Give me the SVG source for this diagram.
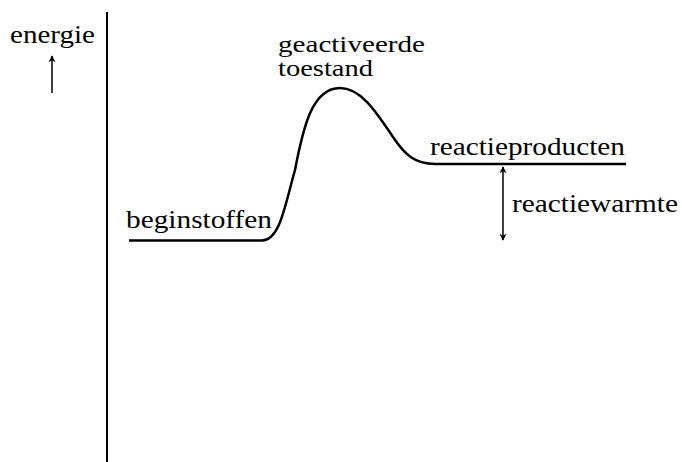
<svg xmlns="http://www.w3.org/2000/svg" width="682" height="462" viewBox="0 0 682 462">
<style>
text{font-family:"Liberation Serif","Times New Roman",serif;font-size:25px;fill:#000}
.sm{font-size:23px}
.ln{fill:none;stroke:#000}
</style>
<defs>
<marker id="ah" viewBox="0 0 10 10" refX="9" refY="5" markerWidth="7" markerHeight="9" markerUnits="userSpaceOnUse" orient="auto-start-reverse">
<path d="M0,0 L10,5 L0,10 L3,5 Z" fill="#000"/>
</marker>
</defs>
<rect width="682" height="462" fill="#fff"/>
<g id="axis">
<line class="ln" x1="107" y1="12" x2="107" y2="462" stroke-width="2"/>
</g>
<g id="energie">
<text x="10" y="43" textLength="85" lengthAdjust="spacingAndGlyphs">energie</text>
</g>
<g id="connectors">
<line class="ln" x1="52" y1="93" x2="52" y2="56" stroke-width="1.5" marker-end="url(#ah)"/>
<path class="ln" stroke-width="2.5" d="M129,240.5 H262 C280,240.5 285,205 295,170 C303,128 312,88 340,88 C362,88 378,115 393,137 C405,155 415,164 435,164 H626"/>
<line class="ln" x1="503" y1="167" x2="503" y2="240" stroke-width="1.5" marker-start="url(#ah)" marker-end="url(#ah)"/>
</g>
<g id="beginstoffen">
<text x="126" y="228" textLength="146" lengthAdjust="spacingAndGlyphs">beginstoffen</text>
</g>
<g id="geactiveerde-toestand">
<text class="sm" x="278" y="52" textLength="147" lengthAdjust="spacingAndGlyphs">geactiveerde</text>
<text class="sm" x="278" y="76" textLength="95" lengthAdjust="spacingAndGlyphs">toestand</text>
</g>
<g id="reactieproducten">
<text x="430" y="155" textLength="195" lengthAdjust="spacingAndGlyphs">reactieproducten</text>
</g>
<g id="reactiewarmte">
<text x="512" y="212" textLength="166" lengthAdjust="spacingAndGlyphs">reactiewarmte</text>
</g>
</svg>
